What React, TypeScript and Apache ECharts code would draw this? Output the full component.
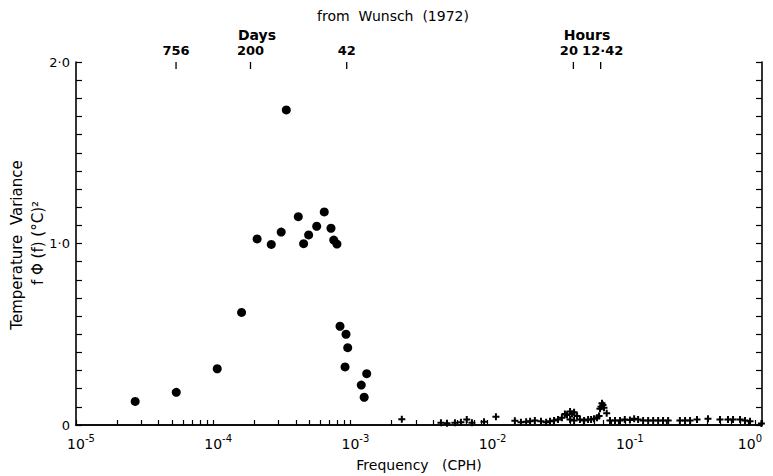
import React, { useEffect, useRef } from "react";
import * as echarts from "echarts";

// Dots: frequency (CPH) and f·Φ(f) (°C)²
const dotFreq = [2.7e-5, 5.38e-5, 1.07e-4, 1.61e-4, 2.09e-4, 2.65e-4, 3.13e-4, 3.41e-4, 4.17e-4, 4.56e-4, 4.96e-4, 5.68e-4, 6.45e-4, 7.22e-4, 7.56e-4, 7.98e-4, 8.4e-4, 9.14e-4, 9.29e-4, 9.56e-4, 1.2e-3, 1.26e-3, 1.315e-3];
const dotVar = [0.13, 0.18, 0.31, 0.62, 1.025, 0.995, 1.063, 1.736, 1.148, 0.999, 1.047, 1.095, 1.174, 1.084, 1.019, 0.997, 0.544, 0.32, 0.5, 0.426, 0.22, 0.153, 0.283];

// Crosses
const crossFreq = [2.37e-3, 4.57e-3, 5.06e-3, 5.78e-3, 6.39e-3, 7.05e-3, 7.69e-3, 9.42e-3, 1.15e-2, 1.58e-2, 1.75e-2, 1.91e-2, 2.04e-2, 2.21e-2, 2.45e-2, 2.67e-2, 2.85e-2, 3.05e-2, 3.26e-2, 3.48e-2, 3.66e-2, 3.79e-2, 3.99e-2, 4.12e-2, 4.27e-2, 4.49e-2, 3.99e-2, 4.27e-2, 4.71e-2, 5.05e-2, 5.4e-2, 5.68e-2, 5.97e-2, 6.27e-2, 6.49e-2, 6.71e-2, 6.82e-2, 6.93e-2, 7.05e-2, 6.59e-2, 7.38e-2, 7.8e-2, 8.49e-2, 9.23e-2, 0.1, 0.109, 0.117, 0.125, 0.136, 0.148, 0.161, 0.175, 0.19, 0.207, 0.252, 0.275, 0.299, 0.336, 0.404, 0.494, 0.565, 0.615, 0.692, 0.752, 0.818, 0.99];
const crossVar = [0.031, 0.012, 0.01, 0.012, 0.015, 0.03, 0.012, 0.018, 0.045, 0.024, 0.015, 0.018, 0.02, 0.025, 0.02, 0.015, 0.02, 0.025, 0.03, 0.04, 0.06, 0.055, 0.075, 0.06, 0.07, 0.05, 0.03, 0.025, 0.03, 0.025, 0.03, 0.03, 0.035, 0.04, 0.05, 0.1, 0.12, 0.11, 0.095, 0.09, 0.065, 0.025, 0.025, 0.025, 0.03, 0.028, 0.035, 0.03, 0.025, 0.025, 0.025, 0.025, 0.025, 0.025, 0.025, 0.025, 0.025, 0.03, 0.035, 0.03, 0.03, 0.03, 0.03, 0.025, 0.02, 0.008];

// Bottom axis decades and exponents
const decadeValues = [1e-5, 1e-4, 1e-3, 1e-2, 1e-1, 1];
const decadeExps = ["-5", "-4", "-3", "-2", "-1", "0"];

// Top period ticks (frequency in CPH) and labels
const periodFreq = [5.36e-5, 1.87e-4, 9.4e-4, 4.22e-2, 6.67e-2];
const periodLabels = ["756", "200", "42", "20", "12·42"];

const FONT = "DejaVu Sans";
const PLUS = "path://M2.5,0H4.5V2.5H7V4.5H4.5V7H2.5V4.5H0V2.5H2.5Z";

function minorTicks(): number[] {
  const out: number[] = [];
  for (let k = -5; k < 0; k++) {
    for (let m = 1; m <= 9; m++) out.push(m * Math.pow(10, k));
  }
  out.push(1);
  return out;
}

function findIndex(arr: number[], v: number) {
  for (let i = 0; i < arr.length; i++) {
    if (Math.abs(Math.log10(arr[i]) - Math.log10(v)) < 1e-4) return i;
  }
  return -1;
}

export default function App() {
  const ref = useRef<HTMLDivElement>(null);
  useEffect(() => {
    if (!ref.current) return;
    const chart = echarts.init(ref.current, null, { renderer: "svg" });
    const yLabel = (v: number) => {
      if (Math.abs(v) < 1e-6) return "0";
      if (Math.abs(v - 1) < 1e-6) return "1·0";
      if (Math.abs(v - 2) < 1e-6) return "2·0";
      return "";
    };
    const yAxisBase = {
      type: "value",
      min: 0,
      max: 2,
      interval: 0.1,
      splitLine: { show: false },
      axisLine: { show: true, lineStyle: { color: "#000", width: 1.6 } },
      axisTick: { show: true, inside: true, length: 6, lineStyle: { color: "#000", width: 1.2 } },
    };
    chart.setOption({
      animation: false,
      backgroundColor: "#fff",
      textStyle: { fontFamily: FONT, color: "#000" },
      grid: { left: 76, right: 11, top: 62, bottom: 51, containLabel: false, outerBoundsMode: "none" },
      graphic: [
        { type: "text", x: 393, y: 16, style: { text: "from  Wunsch  (1972)", font: `14px "${FONT}"`, fill: "#000", align: "center", verticalAlign: "middle" } },
        { type: "text", x: 257, y: 35, style: { text: "Days", font: `bold 14px "${FONT}"`, fill: "#000", align: "center", verticalAlign: "middle" } },
        { type: "text", x: 587, y: 35, style: { text: "Hours", font: `bold 14px "${FONT}"`, fill: "#000", align: "center", verticalAlign: "middle" } },
        { type: "text", x: 17, y: 245, rotation: Math.PI / 2, style: { text: "Temperature  Variance", font: `15px "${FONT}"`, fill: "#000", align: "center", verticalAlign: "middle" } },
        { type: "text", x: 38, y: 243, rotation: Math.PI / 2, style: { text: "f Φ (f) (°C)²", font: `15px "${FONT}"`, fill: "#000", align: "center", verticalAlign: "middle" } },
      ],
      xAxis: [
        {
          type: "log",
          logBase: 10,
          min: 1e-5,
          max: 1,
          position: "bottom",
          name: "Frequency   (CPH)",
          nameLocation: "middle",
          nameGap: 33,
          nameTextStyle: { fontFamily: FONT, fontSize: 14, color: "#000" },
          splitLine: { show: false },
          axisLine: { show: true, lineStyle: { color: "#000", width: 1.6 } },
          axisTick: { show: true, inside: true, length: 5, customValues: minorTicks(), lineStyle: { color: "#000", width: 1.2 } },
          axisLabel: {
            margin: 8,
            hideOverlap: false,
            customValues: decadeValues,
            formatter: (v: number) => {
              const i = findIndex(decadeValues, v);
              if (i < 0) return "";
              if (i === decadeValues.length - 1) return `{b|10}{s|${decadeExps[i]}}`;
              return `{p|}{b|10}{s|${decadeExps[i]}}`;
            },
            rich: {
              p: { width: 10 },
              b: { fontFamily: FONT, fontSize: 14, color: "#000", verticalAlign: "bottom", lineHeight: 18 },
              s: { fontFamily: FONT, fontSize: 10, color: "#000", verticalAlign: "top", lineHeight: 18 },
            },
            alignMaxLabel: "right",
          },
        },
        {
          type: "log",
          logBase: 10,
          min: 1e-5,
          max: 1,
          position: "top",
          splitLine: { show: false },
          axisLine: { show: true, lineStyle: { color: "#000", width: 1.6 } },
          axisTick: { show: false },
          axisLabel: {
            margin: 5,
            hideOverlap: false,
            customValues: periodFreq,
            formatter: (v: number) => {
              const i = findIndex(periodFreq, v);
              if (i < 0) return "";
              if (i === 3) return `{l|${periodLabels[i]}}`;
              if (i === 4) return `{r|${periodLabels[i]}}`;
              return `{n|${periodLabels[i]}}`;
            },
            rich: {
              n: { fontFamily: FONT, fontSize: 13, fontWeight: "bold", color: "#000" },
              l: { fontFamily: FONT, fontSize: 13, fontWeight: "bold", color: "#000", padding: [0, 9, 0, 0] },
              r: { fontFamily: FONT, fontSize: 13, fontWeight: "bold", color: "#000", padding: [0, 0, 0, 4] },
            },
          },
        },
      ],
      yAxis: [
        {
          ...yAxisBase,
          position: "left",
          axisLabel: { margin: 6, fontFamily: FONT, fontSize: 13, color: "#000", formatter: yLabel },
        },
        {
          ...yAxisBase,
          position: "right",
          axisLabel: { show: false },
        },
      ],
      series: [
        {
          type: "scatter",
          xAxisIndex: 0,
          yAxisIndex: 0,
          symbol: "circle",
          symbolSize: 9,
          itemStyle: { color: "#000", opacity: 1 },
          data: dotFreq.map((f, i) => [f, dotVar[i]]),
          z: 5,
        },
        {
          type: "scatter",
          xAxisIndex: 0,
          yAxisIndex: 0,
          symbol: PLUS,
          symbolSize: 7,
          itemStyle: { color: "#000", opacity: 1 },
          data: crossFreq.map((f, i) => [f, crossVar[i]]),
          z: 5,
        },
        {
          // period tick marks hanging from the top axis
          type: "scatter",
          xAxisIndex: 1,
          yAxisIndex: 0,
          symbol: "rect",
          symbolSize: [1.3, 7],
          symbolOffset: [0, 3.5],
          clip: false,
          silent: true,
          itemStyle: { color: "#000", opacity: 1 },
          data: periodFreq.map((f) => [f, 2]),
          z: 6,
        },
      ],
    });
    return () => chart.dispose();
  }, []);
  return <div ref={ref} style={{ width: 773, height: 476, position: "absolute", left: 0, top: 0 }} />;
}
